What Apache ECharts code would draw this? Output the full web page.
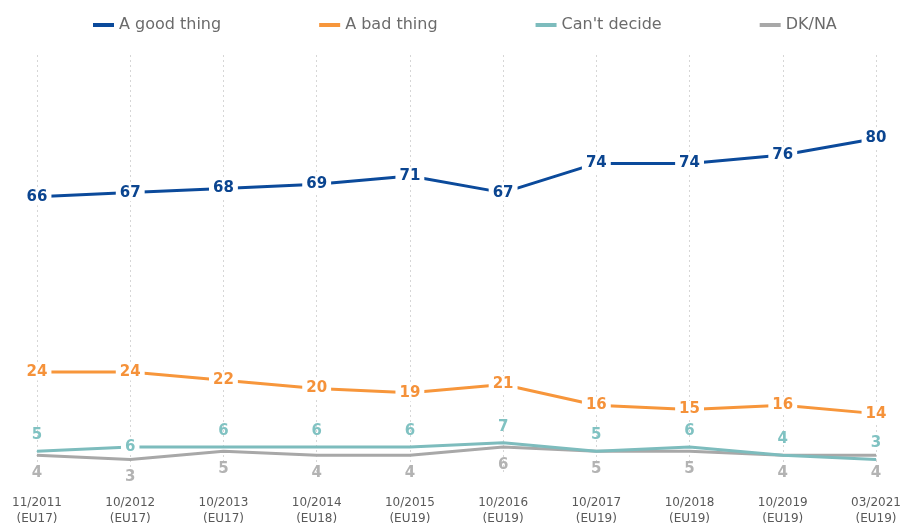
<!DOCTYPE html>
<html>
<head>
<meta charset="utf-8">
<script src="https://cdn.jsdelivr.net/npm/echarts@6/dist/echarts.min.js"></script>
<style>
  html, body { margin: 0; padding: 0; background: #fff; }
  #chart { width: 901px; height: 525px; }
</style>
</head>
<body>
<div id="chart"></div>
<script>
const categories = ['11/2011\n(EU17)', '10/2012\n(EU17)', '10/2013\n(EU17)', '10/2014\n(EU18)', '10/2015\n(EU19)',
  '10/2016\n(EU19)', '10/2017\n(EU19)', '10/2018\n(EU19)', '10/2019\n(EU19)', '03/2021\n(EU19)']
const goodThing = [66, 67, 68, 69, 71, 67, 74, 74, 76, 80]
const badThing = [24, 24, 22, 20, 19, 21, 16, 15, 16, 14]
const cantDecide = [5, 6, 6, 6, 6, 7, 5, 6, 4, 3]
const dkNa = [4, 3, 5, 4, 4, 6, 5, 5, 4, 4]

const FONT = '"DejaVu Sans", Verdana, sans-serif'

function onPointLabel(color) {
  return {
    show: true,
    position: 'inside',
    color: color,
    fontFamily: FONT,
    fontSize: 15,
    fontWeight: 'bold',
    backgroundColor: '#fff',
    padding: [1, 4],
  }
}

function lineSeries(name, data, color, label, z) {
  return {
    name: name,
    type: 'line',
    data: data,
    symbol: 'circle',
    symbolSize: 1,
    showSymbol: true,
    z: z,
    lineStyle: { color: color, width: 3 },
    itemStyle: { color: color },
    label: label,
    labelLayout: { hideOverlap: false },
    emphasis: { disabled: true },
  }
}

// the 10/2012 "Can't decide" label sits on the line instead of above it
const cantDecideData = cantDecide.map((v, i) => i === 1
  ? { value: v, label: { position: 'inside', offset: [0, -5], backgroundColor: '#fff', padding: [0, 4] } }
  : v)

const chart = echarts.init(document.getElementById('chart'))
chart.setOption({
  animation: false,
  backgroundColor: '#fff',
  textStyle: { fontFamily: FONT },
  legend: {
    left: 88,
    top: 12,
    itemGap: 98,
    itemWidth: 21,
    itemHeight: 4,
    icon: 'rect',
    textStyle: { color: '#6b6b6b', fontSize: 16, fontFamily: FONT },
    data: ['A good thing', 'A bad thing', "Can't decide", 'DK/NA'],
  },
  grid: { left: 37, right: 25, top: 55, bottom: 53, outerBoundsMode: 'none' },
  xAxis: {
    type: 'category',
    data: categories,
    boundaryGap: false,
    axisLine: { show: false },
    axisTick: { show: false },
    axisLabel: { color: '#595959', fontSize: 12, lineHeight: 16, margin: 23, fontFamily: FONT },
    splitLine: { show: true, lineStyle: { color: '#d6d6d6', width: 1, type: [2, 3] } },
  },
  yAxis: {
    type: 'value',
    min: 0,
    max: 100,
    show: false,
    splitLine: { show: false },
  },
  series: [
    lineSeries('A good thing', goodThing, '#0b4a9b', onPointLabel('#0b4590'), 4),
    lineSeries('A bad thing', badThing, '#f7963b', onPointLabel('#f5923a'), 4),
    lineSeries("Can't decide", cantDecideData, '#7dbcbd', {
      show: true, position: 'top', distance: 8,
      color: '#80c2c2', fontSize: 15, fontWeight: 'bold', fontFamily: FONT,
    }, 3),
    lineSeries('DK/NA', dkNa, '#a8a8a8', {
      show: true, position: 'bottom', distance: 10,
      color: '#b3b3b3', fontSize: 15, fontWeight: 'bold', fontFamily: FONT,
    }, 2),
  ],
})
</script>
</body>
</html>
